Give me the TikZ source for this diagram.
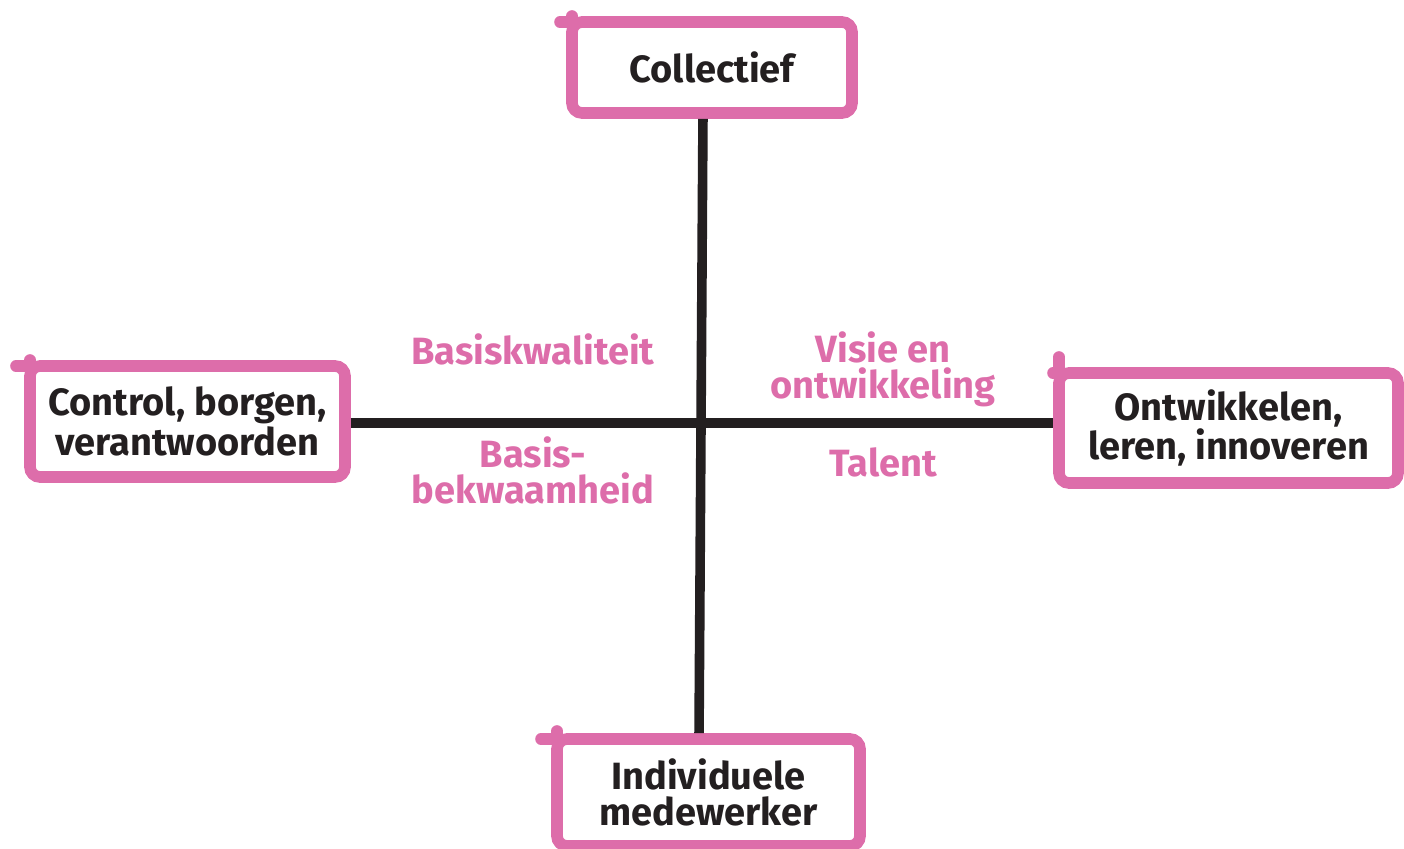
\documentclass[tikz,border=0pt]{standalone}
\usepackage{fontspec}
\setmainfont{Fira Sans}
\definecolor{roze}{HTML}{DD6DAA}
\definecolor{zwart}{HTML}{231F20}

\begin{document}
\begin{tikzpicture}[x=0.5pt,y=-0.5pt]
      \useasboundingbox (0,0) rectangle (1404,849);

      \begin{scope}[every node/.style={draw=roze,line width=5.8pt,rounded corners=5pt,outer sep=0pt,
          align=center,inner sep=0pt,text=zwart,font=\fontsize{19}{18}\selectfont\bfseries}]
        \node[minimum width=140pt,minimum height=45.5pt]   (collectief)  at (712,67.5)   {Collectief};
        \node[minimum width=157.5pt,minimum height=55.5pt] (control)     at (187.5,421.5) {Control, borgen,\\verantwoorden};
        \node[minimum width=169.5pt,minimum height=55pt]   (ontwikkelen) at (1228.5,428)  {Ontwikkelen,\\leren, innoveren};
        \node[minimum width=151.5pt,minimum height=53.5pt] (individueel) at (708.5,792.5) {Individuele\\medewerker};
      \end{scope}

      % uitstekende hoekjes
      \begin{scope}[roze,line width=5.8pt,line cap=round]
        \foreach \n/\dx/\dy in {collectief/6/3,control/7/3,ontwikkelen/3/8,individueel/8/4}
          \draw ([xshift=-\dx pt]\n.north west) -- (\n.north west) -- ([yshift=\dy pt]\n.north west);
      \end{scope}

      \coordinate (kruis) at (703,423);
      \begin{scope}[zwart,line width=4.8pt,shorten <=2.9pt,shorten >=2.9pt]
        \draw (kruis |- collectief.south) -- ([xshift=-2pt]kruis |- individueel.north);
        \draw (control.east |- kruis) -- (ontwikkelen.west |- kruis);
      \end{scope}

      \begin{scope}[every node/.style={text=roze,align=center,inner sep=0pt,
          font=\fontsize{19}{18}\selectfont\bfseries}]
        \node (basiskwaliteit) at (533,349) {Basiskwaliteit};
        \node (visie)          at (883,369) {Visie en\\ontwikkeling};
        \node (bekwaamheid)    at (533,470) {Basis-\\bekwaamheid};
        \node (talent)         at (883,462) {Talent};
      \end{scope}

    \end{tikzpicture}
\end{document}
